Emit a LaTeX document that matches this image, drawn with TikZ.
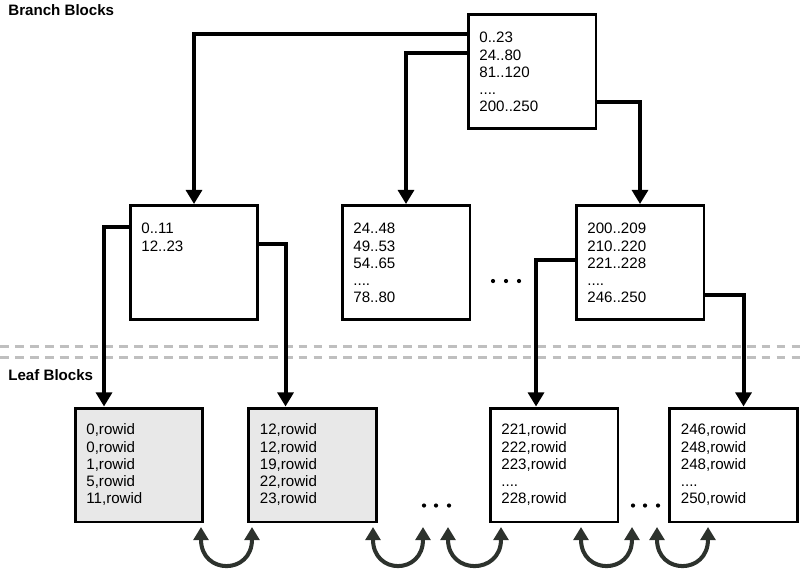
\documentclass[tikz,border=0pt]{standalone}
\usepackage{fontspec}
\setmainfont{Liberation Sans}
\usetikzlibrary{arrows.meta}
\definecolor{linkgray}{HTML}{2D322D}
\definecolor{leafgray}{HTML}{E8E8E8}
\tikzset{
  block/.style={draw, line width=1.7pt, minimum width=2.56cm, minimum height=2.28cm, inner sep=0pt},
  leaf/.style={block, fill=leafgray},
  keys/.style={anchor=north west, inner sep=0pt, align=left, font=\fontsize{8.6}{9.8}\selectfont},
  ptr/.style={line width=2.3pt, -{Triangle[length=8pt,width=9pt]}},
  link/.style={draw=linkgray, line width=2.3pt, {Triangle[length=7.5pt,width=8.5pt]}-{Triangle[length=7.5pt,width=8.5pt]}},
  level/.style={anchor=west, inner sep=0pt, font=\fontsize{8.6}{10}\selectfont\bfseries},
  divider/.style={draw=gray!50, line width=1.7pt, dash pattern=on 5pt off 3.5pt}
}
\begin{document}
\begin{tikzpicture}[x=0.02cm, y=-0.02cm]
    \useasboundingbox (0,0) rectangle (800,572);
    % level labels
    \node[level] (branchlbl) at (8,10) {Branch Blocks};
    \node[level] (leaflbl) at (8,375) {Leaf Blocks};
    % divider between branch and leaf level
    \draw[divider] (0,346) -- (800,346);
    \draw[divider] (0,357) -- (800,357);
    % root branch block
    \node[block] (root) at (532,71.5) {};
    \node[keys] (rootkeys) at ([shift={(12.5,19)}]root.north west) {0..23\\24..80\\81..120\\....\\200..250};
    % second level branch blocks
    \node[block] (b1) at (194,262.5) {};
    \node[keys] (b1keys) at ([shift={(12.5,19)}]b1.north west) {0..11\\12..23};
    \node[block] (b2) at (406,262.5) {};
    \node[keys] (b2keys) at ([shift={(12.5,19)}]b2.north west) {24..48\\49..53\\54..65\\....\\78..80};
    \node[block] (b3) at (640,262.5) {};
    \node[keys] (b3keys) at ([shift={(12.5,19)}]b3.north west) {200..209\\210..220\\221..228\\....\\246..250};
    % leaf blocks
    \node[leaf] (leaf1) at (139,465) {};
    \node[keys] (leaf1keys) at ([shift={(12.5,17)}]leaf1.north west) {0,rowid\\0,rowid\\1,rowid\\5,rowid\\11,rowid};
    \node[leaf] (leaf2) at (312.5,465) {};
    \node[keys] (leaf2keys) at ([shift={(12.5,17)}]leaf2.north west) {12,rowid\\12,rowid\\19,rowid\\22,rowid\\23,rowid};
    \node[block] (leaf3) at (554,465) {};
    \node[keys] (leaf3keys) at ([shift={(12.5,17)}]leaf3.north west) {221,rowid\\222,rowid\\223,rowid\\....\\228,rowid};
    \node[block] (leaf4) at (733.5,465) {};
    \node[keys] (leaf4keys) at ([shift={(12.5,17)}]leaf4.north west) {246,rowid\\248,rowid\\248,rowid\\....\\250,rowid};
    % pointers from the root
    \draw[ptr] ([shift={(0,20.5)}]root.north west) -| (b1.north);
    \draw[ptr] ([shift={(0,39.5)}]root.north west) -| (b2.north);
    \draw[ptr] ([shift={(0,88.5)}]root.north east) -| (b3.north);
    % pointers down to the leaves
    \draw[ptr] ([shift={(0,22.5)}]b1.north west) -| ([shift={(30.5,0)}]leaf1.north west);
    \draw[ptr] ([shift={(0,39.5)}]b1.north east) -| ([shift={(38.5,0)}]leaf2.north west);
    \draw[ptr] ([shift={(0,55.5)}]b3.north west) -| ([shift={(47.5,0)}]leaf3.north west);
    \draw[ptr] ([shift={(0,90.5)}]b3.north east) -| ([shift={(75.5,0)}]leaf4.north west);
    % omitted blocks
    \foreach \x in {493,506,519} \fill (\x,281) circle (1.2pt);
    \foreach \x in {424,436,449} \fill (\x,505.5) circle (1.2pt);
    \foreach \x in {633,645,658} \fill (\x,505.5) circle (1.2pt);
    % links between neighbouring leaves
    \foreach \a/\b in {201/252,373/423,448/501,581/632,657/708}
        \draw[link] (\a,527) .. controls (\a,575) and (\b,575) .. (\b,527);
\end{tikzpicture}
\end{document}
